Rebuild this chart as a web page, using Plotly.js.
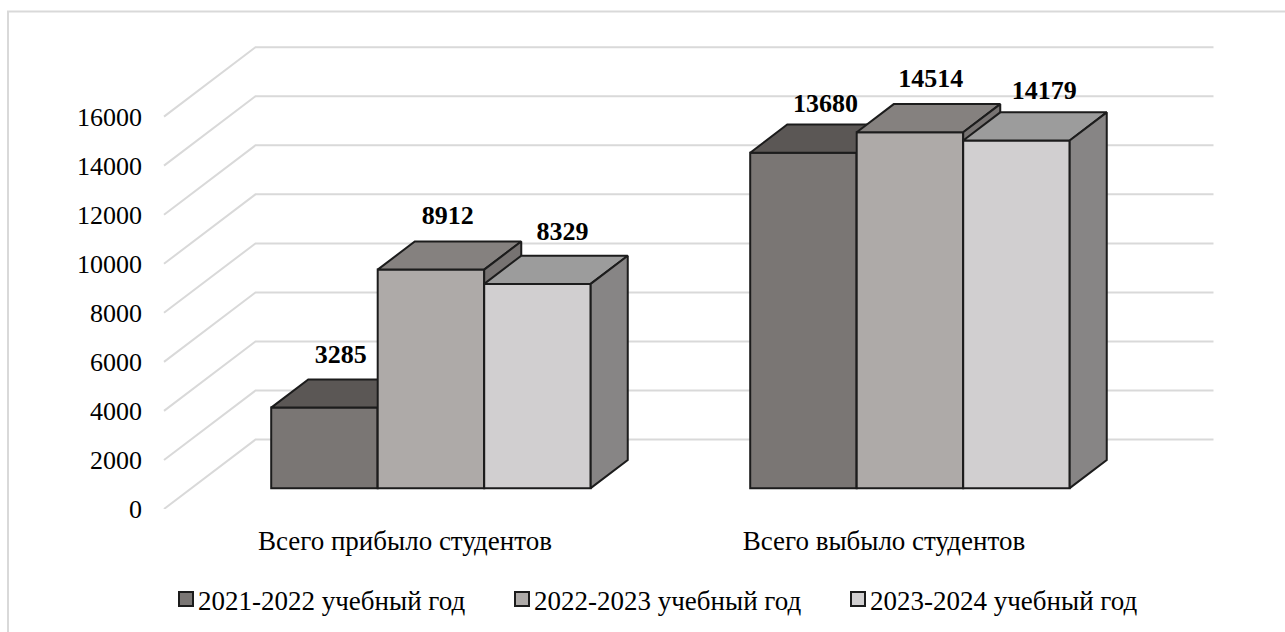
<!DOCTYPE html>
<html><head><meta charset="utf-8">
<script src="https://cdn.plot.ly/plotly-3.0.1.min.js"></script>
<style>html,body{margin:0;padding:0;background:#fff}#chart{width:1285px;height:632px}</style>
</head><body><div id="chart"></div>
<script>
// ---- data ----
const categories = ["Всего прибыло студентов", "Всего выбыло студентов"];
const seriesNames = ["2021-2022 учебный год", "2022-2023 учебный год", "2023-2024 учебный год"];
const values2122 = [3285, 13680];
const values2223 = [8912, 14514];
const values2324 = [8329, 14179];
const yTicks = [0, 2000, 4000, 6000, 8000, 10000, 12000, 14000, 16000];
// ---- styles ----
const frontColors = ["#7a7674", "#aeaaa8", "#d1cfd0"];
const topColors = ["#5b5755", "#85817f", "#9c9c9c"];
const sideColors = ["#6a6664", "#777372", "#878585"];
const labelNudgeX = [[-0.004, 0.008], [-0.003, 0.005], [0.014, 0.02]];
const labelNudgeY = [[1510, 1350], [1550, 1550], [1470, 1390]];
const stroke = "#1c1c1c", grid = "#d9d9d9", font = "'Liberation Serif','Times New Roman',serif";

// ---- oblique projection expressed in axis units ----
const PXU = 479, PXV = 49.1 / 2000;        // pixels per x unit, pixels per value
const DX = 91.5 / PXU, DV = 69.5 / PXV;    // full depth of the floor in axis units
const D0 = 0.3, D1 = 0.705;                // bar depth span (fractions of floor depth)
const BW = 106.5 / PXU;                    // bar width
const xr = [(146 - 403.5) / PXU, (1220 - 403.5) / PXU];
const yr = [0, 466.5 / PXV];

const all = [values2122, values2223, values2324];
const traces = [];

// back wall & side wall gridlines (base subplot)
yTicks.forEach(v => traces.push({
  type: "scatter", mode: "lines", x: [-0.5, -0.5 + DX, 1.5 + DX], y: [v, v + DV, v + DV],
  line: {color: grid, width: 2}, showlegend: false, hoverinfo: "skip", cliponaxis: false, xaxis: "x", yaxis: "y"
}));

all.forEach((vals, s) => {
  const xa = "x" + (s + 2), ya = "y" + (s + 2);
  const xFront = vals.map((_, c) => c - 1.5 * BW + s * BW + DX * D0);
  // front faces: real bars
  traces.push({
    type: "bar", x: xFront.map(x => x + BW / 2), y: vals, base: vals.map(() => DV * D0), width: BW,
    marker: {color: frontColors[s], line: {color: stroke, width: 2}},
    showlegend: false, hoverinfo: "skip", cliponaxis: false, xaxis: xa, yaxis: ya
  });
  vals.forEach((v, c) => {
    const xl = xFront[c], xrr = xl + BW, d = (D1 - D0);
    const b = DV * D0, t = b + v;
    // top face
    traces.push({type: "scatter", mode: "lines", fill: "toself", fillcolor: topColors[s],
      x: [xl, xl + DX * d, xrr + DX * d, xrr, xl], y: [t, t + DV * d, t + DV * d, t, t],
      line: {color: stroke, width: 2}, showlegend: false, hoverinfo: "skip", cliponaxis: false, xaxis: xa, yaxis: ya});
    // side face
    traces.push({type: "scatter", mode: "lines", fill: "toself", fillcolor: sideColors[s],
      x: [xrr, xrr + DX * d, xrr + DX * d, xrr, xrr], y: [t, t + DV * d, b + DV * d, b, t],
      line: {color: stroke, width: 2}, showlegend: false, hoverinfo: "skip", cliponaxis: false, xaxis: xa, yaxis: ya});
  });
});

// data labels (topmost subplot)
all.forEach((vals, s) => {
  traces.push({
    type: "scatter", mode: "text", xaxis: "x4", yaxis: "y4", cliponaxis: false, showlegend: false, hoverinfo: "skip",
    x: vals.map((_, c) => c - 1.5 * BW + s * BW + DX * D0 + BW / 2 + DX * 0.2 + labelNudgeX[s][c]),
    y: vals.map((v, c) => DV * D0 + v + DV * 0.2 + labelNudgeY[s][c]),
    text: vals.map(String), textposition: "middle center",
    textfont: {family: font, size: 26, color: "#000", weight: 700}
  });
});

// legend entries
seriesNames.forEach((n, s) => traces.push({
  type: "scatter", mode: "markers", x: [null], y: [null], name: n, xaxis: "x", yaxis: "y",
  marker: {symbol: "square", size: 14, color: frontColors[s], line: {color: stroke, width: 2}}
}));

const overlayX = () => ({overlaying: "x", visible: false, range: xr, type: "linear", fixedrange: true});
const overlayY = () => ({overlaying: "y", visible: false, range: yr, type: "linear", fixedrange: true});
const layout = {
  width: 1285, height: 632, paper_bgcolor: "#fff", plot_bgcolor: "rgba(0,0,0,0)", bargap: 0,
  barmode: "overlay",
  margin: {l: 146, r: 65, t: 42.5, b: 123, pad: 0, autoexpand: false},
  font: {family: font, size: 26, color: "#000"},
  xaxis: {range: xr, type: "linear", tickmode: "array", tickvals: [0.003, 1.003], ticktext: categories, showgrid: false,
    zeroline: false, showline: false, ticks: "", tickfont: {family: font, size: 27, color: "#000"}, ticklabelstandoff: 13, fixedrange: true},
  yaxis: {range: yr, type: "linear", tickmode: "array", tickvals: yTicks, ticktext: yTicks.map(String), showgrid: false,
    zeroline: false, showline: false, ticks: "", tickfont: {family: font, size: 26, color: "#000"}, ticklabelstandoff: 3, fixedrange: true},
  xaxis2: overlayX(), yaxis2: overlayY(), xaxis3: overlayX(), yaxis3: overlayY(), xaxis4: overlayX(), yaxis4: overlayY(),
  legend: {orientation: "h", x: (158 - 146) / 1074, xanchor: "left", y: (509 - 575) / 466.5, yanchor: "top",
    font: {family: font, size: 27, color: "#000"}, entrywidth: 291, entrywidthmode: "pixels", traceorder: "normal", itemclick: false, itemdoubleclick: false},
  shapes: [{type: "rect", xref: "paper", yref: "paper", x0: (8 - 146) / 1074, x1: (1300 - 146) / 1074, y0: (509 - 660) / 466.5, y1: (509 - 11) / 466.5,
    line: {color: grid, width: 2}, fillcolor: "rgba(0,0,0,0)", layer: "below"}],
  showlegend: true
};
Plotly.newPlot("chart", traces, layout, {staticPlot: true, displayModeBar: false}).then(gd => {
  // the reference's legend keys sit close to their labels
  gd.querySelectorAll(".legendsymbols").forEach(g => g.setAttribute("transform", "translate(8,0)"));
});
</script></body></html>
